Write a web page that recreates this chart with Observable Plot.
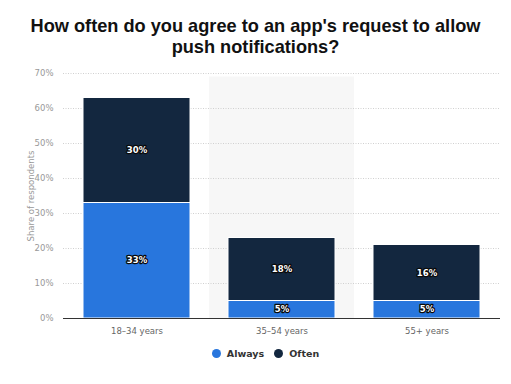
<!DOCTYPE html>
<html>
<head>
<meta charset="utf-8">
<script src="https://cdn.jsdelivr.net/npm/d3@7"></script>
<script src="https://cdn.jsdelivr.net/npm/@observablehq/plot@0.6"></script>
<style>
  html, body { margin: 0; padding: 0; background: #fff; }
  body { width: 511px; height: 384px; overflow: hidden; }
  #title { font-family: "Liberation Sans", Arial, sans-serif; font-weight: bold; font-size: 18.2px; line-height: 21px; color: #111; text-align: center; padding-top: 16px; height: 46px; }
  #legend { display: flex; justify-content: center; align-items: center; gap: 10px; font-family: "DejaVu Sans", sans-serif; font-size: 9.5px; font-weight: bold; color: #333; padding-left: 20px; margin-top: 6px; }
  .item { display: flex; align-items: center; gap: 6px; }
  .dot { width: 9px; height: 9px; border-radius: 50%; display: inline-block; }
</style>
</head>
<body>
<div id="title">How often do you agree to an app's request to allow<br>push notifications?</div>
<div id="chart"></div>
<div id="legend"></div>
<script>
const categories = ["18–34 years", "35–54 years", "55+ years"];
const seriesNames = ["Always", "Often"];
const always = [33, 5, 5];
const often = [30, 18, 16];
const yTicks = [0, 10, 20, 30, 40, 50, 60, 70];
const highlighted = ["35–54 years"];
const colors = ["#2876dd", "#13273f"];

const data = [];
categories.forEach((c, i) => {
  data.push({age: c, type: seriesNames[0], value: always[i]});
  data.push({age: c, type: seriesNames[1], value: often[i]});
});

const chart = Plot.plot({
  width: 511,
  height: 280,
  marginTop: 11,
  marginBottom: 24,
  marginLeft: 63,
  marginRight: 11,
  style: {fontFamily: "DejaVu Sans, sans-serif", fontSize: "8px", color: "#999"},
  x: {domain: categories, padding: 0, label: null},
  y: {domain: [0, 70], label: null},
  color: {domain: seriesNames, range: colors},
  marks: [
    Plot.barY(highlighted, {x: d => d, y1: 0, y2: 69, fill: "#f7f7f7"}),
    Plot.gridY(yTicks, {stroke: "#d0d0d0", strokeOpacity: 1, strokeDasharray: "1,1.5"}),
    Plot.axisY(yTicks, {tickSize: 0, tickPadding: 10, tickFormat: d => d + "%", fill: "#999", fontSize: 8.5,
      label: "Share of respondents", labelAnchor: "center", labelArrow: "none", labelOffset: 36}),
    Plot.axisX({tickSize: 0, tickPadding: 9, fill: "#666", fontSize: 8.5, label: null}),
    Plot.barY(data, {x: "age", y: "value", fill: "type", stroke: "white", strokeWidth: 1, insetLeft: 19, insetRight: 19}),
    Plot.ruleY([0], {stroke: "#333", strokeWidth: 1}),
    Plot.text(data, Plot.stackY({x: "age", y: "value", text: d => d.value + "%", fill: "white", stroke: "#0a0a0a", strokeWidth: 2.5, fontWeight: "bold", fontSize: 8.5}))
  ]
});
document.getElementById("chart").appendChild(chart);

const legend = document.getElementById("legend");
seriesNames.forEach((s, i) => {
  const it = document.createElement("div");
  it.className = "item";
  it.innerHTML = `<span class="dot" style="background:${colors[i]}"></span><span>${s}</span>`;
  legend.appendChild(it);
});
</script>
</body>
</html>
